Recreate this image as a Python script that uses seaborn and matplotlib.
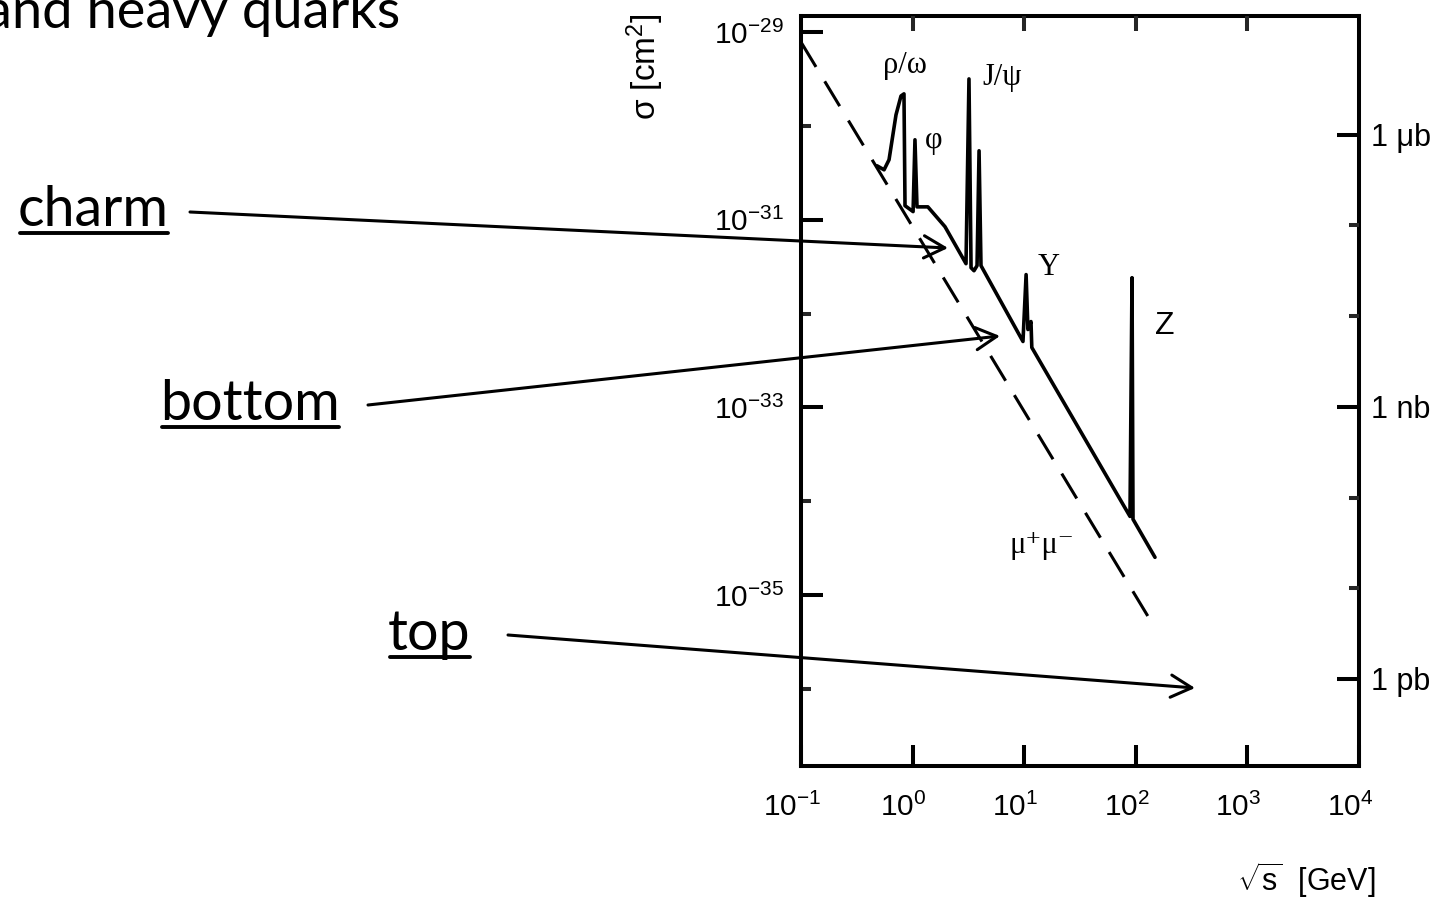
import matplotlib
matplotlib.use("Agg")
import matplotlib.pyplot as plt
import matplotlib.transforms as mtransforms
from matplotlib.ticker import FixedLocator, FixedFormatter, NullFormatter
from matplotlib.patches import FancyArrowPatch
from matplotlib.lines import Line2D
import pandas as pd
import seaborn as sns

# ---- data: e+e- cross sections vs. centre-of-mass energy ----
sqrt_s_hadrons = [0.48, 0.555, 0.615, 0.71, 0.787, 0.837, 0.855, 1.01, 1.05, 1.095,
                  1.37, 1.95, 3.01, 3.20, 3.34, 3.55, 3.78, 3.94, 4.10, 9.75,
                  10.4, 10.8, 11.5, 11.7, 88.7, 92.5, 94.4, 148.6]
sigma_hadrons = [3.75e-31, 3.40e-31, 4.35e-31, 1.31e-30, 2.08e-30, 2.19e-30, 1.41e-31,
                 1.22e-31, 7.10e-31, 1.37e-31, 1.37e-31, 8.43e-32, 3.40e-32, 3.16e-30,
                 3.08e-32, 2.86e-32, 3.24e-32, 5.42e-31, 3.24e-32, 5.04e-33, 2.60e-32,
                 6.76e-33, 8.22e-33, 4.35e-33, 6.90e-35, 2.41e-32, 6.44e-35, 2.53e-35]

sqrt_s_mumu = [0.1, 128.0]
sigma_mumu = [7.8e-30, 6.0e-36]

resonance_names = ["ρ/ω", "φ", "J/ψ", "Υ"]
resonance_x = [0.855, 1.56, 6.3, 16.7]
resonance_y = [4.35e-30, 6.9e-31, 3.3e-30, 3.1e-32]
z_name, z_x, z_y = "Z", 183.0, 7.3e-33
mumu_name, mumu_x, mumu_y = "μ⁺μ⁻", 14.5, 3.4e-35

x_ticks = [0.1, 1, 10, 100, 1000, 10000]
x_tick_labels = [r"$10^{-1}$", r"$10^{0}$", r"$10^{1}$", r"$10^{2}$", r"$10^{3}$", r"$10^{4}$"]
y_major = [1e-29, 1e-31, 1e-33, 1e-35]
y_major_labels = [r"$10^{-29}$", r"$10^{-31}$", r"$10^{-33}$", r"$10^{-35}$"]
y_minor = [1e-30, 1e-32, 1e-34, 1e-36]
barn_major = [1e-30, 1e-33, 1e-36]
barn_labels = ["1 μb", "1 nb", "1 pb"]
barn_minor = [1e-31, 1e-32, 1e-34, 1e-35]

quark_labels = ["charm", "bottom", "top"]

# ---- style ----
sns.set_style("white")
plt.rcParams["font.family"] = ["Liberation Sans", "DejaVu Sans"]
plt.rcParams["mathtext.fontset"] = "custom"
plt.rcParams["mathtext.rm"] = "Liberation Sans"
plt.rcParams["mathtext.it"] = "Liberation Sans:italic"
plt.rcParams["mathtext.bf"] = "Liberation Sans:bold"

W, H = 1450, 900
fig = plt.figure(figsize=(W / 100, H / 100), dpi=100)
fig.patch.set_facecolor("white")


def px(x, y):
    """pixel position (from top-left) -> figure fraction"""
    return x / W, 1 - y / H


ax_l, ax_r, ax_t, ax_b = 801, 1359, 16, 766
ax = fig.add_axes([ax_l / W, 1 - ax_b / H, (ax_r - ax_l) / W, (ax_b - ax_t) / H])
ax.set_xscale("log")
ax.set_yscale("log")

df_had = pd.DataFrame({"sqrt_s": sqrt_s_hadrons, "sigma": sigma_hadrons})
df_mumu = pd.DataFrame({"sqrt_s": sqrt_s_mumu, "sigma": sigma_mumu})

sns.lineplot(data=df_had, x="sqrt_s", y="sigma", sort=False, estimator=None,
             color="black", lw=2.6, ax=ax)
sns.lineplot(data=df_mumu, x="sqrt_s", y="sigma", sort=False, estimator=None,
             color="black", lw=2.2, ax=ax)
ax.lines[-1].set_dashes((9.5, 5.5))

ax.set_xlim(0.1, 1e4)
ax.set_ylim(10 ** -36.82, 10 ** -28.83)

spine_w = 2.9
for s in ax.spines.values():
    s.set_linewidth(spine_w)
    s.set_color("black")

tick_fs = 21.5

# x axis
ax.xaxis.set_major_locator(FixedLocator(x_ticks))
ax.xaxis.set_major_formatter(FixedFormatter(x_tick_labels))
ax.xaxis.set_minor_locator(FixedLocator([]))
ax.tick_params(axis="x", which="major", direction="in", length=15, width=spine_w,
               bottom=True, top=False, labelsize=tick_fs, pad=19, colors="black")
for t in ax.xaxis.get_major_ticks():
    if t.get_loc() in (0.1, 10000):
        t.tick1line.set_visible(False)
shift = mtransforms.ScaledTranslation(-9 / 100, 0, fig.dpi_scale_trans)
for lab in ax.get_xticklabels():
    lab.set_transform(lab.get_transform() + shift)

# left y axis
ax.yaxis.set_major_locator(FixedLocator(y_major))
ax.yaxis.set_major_formatter(FixedFormatter(y_major_labels))
ax.yaxis.set_minor_locator(FixedLocator(y_minor))
ax.yaxis.set_minor_formatter(NullFormatter())
ax.tick_params(axis="y", which="major", direction="in", length=16, width=spine_w,
               left=True, right=False, labelsize=tick_fs, pad=12, colors="black")
ax.tick_params(axis="y", which="minor", direction="in", length=7.5, width=spine_w,
               left=True, right=False)
ax.yaxis.get_major_ticks()[0].tick1line.set_visible(False)

# top ticks
axt = ax.twiny()
axt.set_xscale("log")
axt.set_xlim(0.1, 1e4)
axt.xaxis.set_major_locator(FixedLocator(x_ticks[1:-1]))
axt.xaxis.set_major_formatter(NullFormatter())
axt.xaxis.set_minor_locator(FixedLocator([]))
axt.tick_params(axis="x", which="major", direction="in", length=11, width=spine_w,
                top=True, bottom=False)
for s in axt.spines.values():
    s.set_visible(False)

# right axis in barn
axr = ax.twinx()
axr.set_yscale("log")
axr.set_ylim(10 ** -36.96, 10 ** -28.69)
axr.yaxis.set_major_locator(FixedLocator(barn_major))
axr.yaxis.set_major_formatter(FixedFormatter(barn_labels))
axr.yaxis.set_minor_locator(FixedLocator(barn_minor))
axr.yaxis.set_minor_formatter(NullFormatter())
axr.tick_params(axis="y", which="major", direction="in", length=16, width=spine_w,
                right=True, left=False, labelsize=22, pad=9, colors="black")
axr.tick_params(axis="y", which="minor", direction="in", length=7, width=spine_w,
                right=True, left=False)
for s in axr.spines.values():
    s.set_visible(False)

# axis titles
ax.set_ylabel("σ [cm$^2$]", fontsize=24, color="black")
ax.yaxis.set_label_coords(-0.28, 0.932)
ax.yaxis.label.set_va("center")
ax.set_xlabel(r"$\sqrt{\mathrm{s}}$  [GeV]", fontsize=22, color="black")
ax.xaxis.set_label_coords(1.03, -0.152)
ax.xaxis.label.set_ha("right")
ax.xaxis.label.set_va("center")

# resonance labels
serif = ["Liberation Serif", "DejaVu Serif"]
for name, xv, yv in zip(resonance_names, resonance_x, resonance_y):
    ax.text(xv, yv, name, fontsize=22, family=serif, ha="center", va="center", color="black")
ax.text(z_x, z_y, z_name, fontsize=23, ha="center", va="center", color="black")
ax.text(mumu_x, mumu_y, mumu_name, fontsize=22, family=serif, ha="center", va="center",
        color="black")

# slide heading and quark annotations
slide_font = ["Lato", "DejaVu Sans"]
fx, fy = px(400, 28)
fig.text(fx, fy, "and heavy quarks", fontsize=39, family=slide_font, ha="right",
         va="baseline", color="black")

label_pos = [(18, 226), (160, 420), (388, 650)]
arrow_from = [(190, 212), (368, 405), (508, 635)]
arrow_to = [(948, 248), (1000, 336), (1195, 688)]

texts = []
for name, (lx, ly) in zip(quark_labels, label_pos):
    tx, ty = px(lx, ly)
    texts.append(fig.text(tx, ty, name, fontsize=40, family=slide_font, ha="left",
                          va="baseline", color="black"))

fig.canvas.draw()
for t, (lx, ly) in zip(texts, label_pos):
    bb = t.get_window_extent()
    uy = 1 - (ly + 7) / H
    fig.add_artist(Line2D([bb.x0 / W + 2 / W, bb.x1 / W - 1 / W], [uy, uy], lw=2.8,
                          color="black", transform=fig.transFigure))

for a, b in zip(arrow_from, arrow_to):
    arr = FancyArrowPatch(px(*a), px(*b), transform=fig.transFigure,
                          arrowstyle="->,head_length=0.75,head_width=0.4",
                          mutation_scale=20, lw=2.2, color="black",
                          shrinkA=0, shrinkB=0, zorder=10)
    fig.add_artist(arr)

fig.savefig("out.png", dpi=100, facecolor="white")
